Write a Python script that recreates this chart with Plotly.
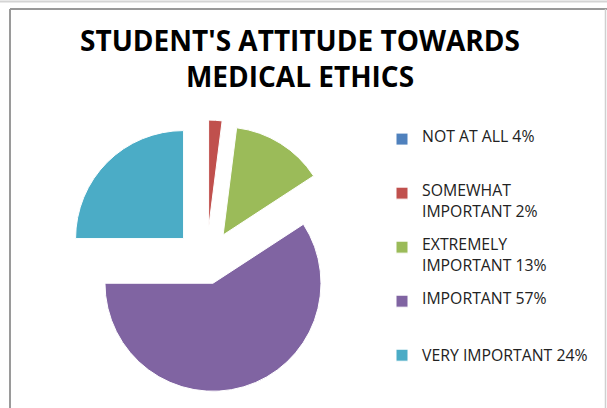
import plotly.graph_objects as go

# Data
labels = ["NOT AT ALL 4%", "SOMEWHAT<br>IMPORTANT 2%", "EXTREMELY<br>IMPORTANT 13%",
          "IMPORTANT 57%", "VERY IMPORTANT 24%"]
values = [0, 2.0, 13.8, 59.2, 25.0]
colors = ["#4F81BD", "#C0504D", "#9BBB59", "#8064A2", "#4BACC6"]
pulls = [0.0, 0.31, 0.29, 0.21, 0.30]
title_text = "STUDENT'S ATTITUDE TOWARDS<br>MEDICAL ETHICS"

W, H = 607, 408

def px(x):
    return x / W

def py(y):
    return 1 - y / H

# legend entries: each label line separated by a blank line, padded to 5 lines
# (last entry not padded so the legend box stays inside the figure)
LEG_BASE = 7.85
LEG_TEXT = 15.8
padded = []
for i, lab in enumerate(labels):
    parts = lab.split("<br>")
    spans = ['<span style="font-size:%.1fpx">%s</span>' % (LEG_TEXT, p) for p in parts]
    txt = "<br> <br>".join(spans)
    n = 2 * len(parts) - 1
    if i < len(labels) - 1:
        txt += "<br> " * (5 - n)
    padded.append(txt)

fig = go.Figure(go.Pie(
    labels=padded,
    values=values,
    sort=False,
    direction="clockwise",
    rotation=0,
    pull=pulls,
    marker=dict(colors=colors, line=dict(color="white", width=1)),
    textinfo="none",
    hoverinfo="value",
    domain=dict(x=[px(65), px(348)], y=[py(403), py(120)]),
))

shapes = [
    dict(type="line", xref="paper", yref="paper", x0=0, x1=1, y0=py(1.5), y1=py(1.5),
         line=dict(color="#d4d4d4", width=2)),
    dict(type="line", xref="paper", yref="paper", x0=px(10), x1=1, y0=py(9), y1=py(9),
         line=dict(color="#9a9a9a", width=2)),
    dict(type="line", xref="paper", yref="paper", x0=px(10), x1=px(10), y0=py(9), y1=0,
         line=dict(color="#9a9a9a", width=2)),
    dict(type="line", xref="paper", yref="paper", x0=px(605.5), x1=px(605.5), y0=py(9), y1=0,
         line=dict(color="#cfcfcf", width=1.5)),
]

fig.update_layout(
    width=W, height=H,
    margin=dict(l=0, r=0, t=0, b=0),
    paper_bgcolor="white",
    plot_bgcolor="white",
    title=dict(text=title_text, x=px(300), xanchor="center", xref="paper",
               y=py(50.5), yanchor="middle", yref="paper",
               font=dict(family="Open Sans", size=28, color="#000000", weight="bold")),
    legend=dict(x=px(382), xanchor="left", y=py(127.5), yanchor="top",
                valign="top", font=dict(family="Open Sans", size=LEG_BASE, color="#222222"),
                bgcolor="rgba(0,0,0,0)", traceorder="normal"),
    shapes=shapes,
    showlegend=True,
)

fig.write_html("out.html")
